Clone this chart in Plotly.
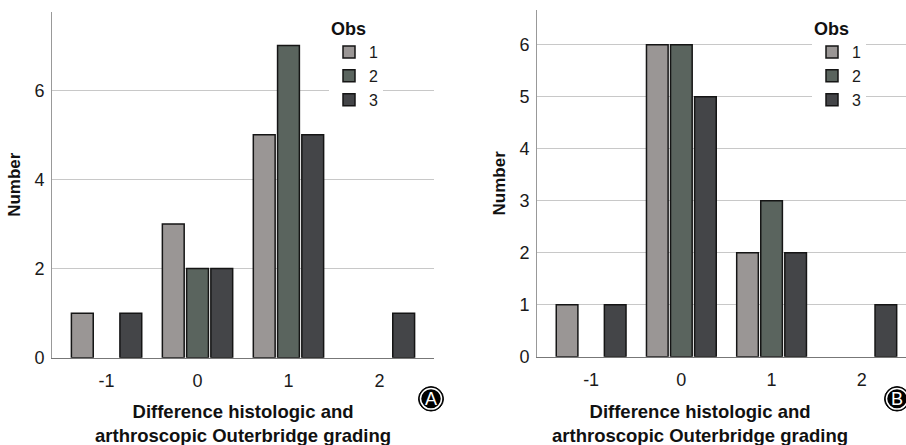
import plotly.graph_objects as go

W, H = 906, 445

categories = [-1, 0, 1, 2]
category_labels = ["-1", "0", "1", "2"]
series_names = ["1", "2", "3"]
colors = ["#9a9695", "#5a645e", "#444548"]

# Panel A values
a_obs1 = [1, 3, 5, 0]
a_obs2 = [0, 2, 7, 0]
a_obs3 = [1, 2, 5, 1]
# Panel B values
b_obs1 = [1, 6, 2, 0]
b_obs2 = [0, 6, 3, 0]
b_obs3 = [1, 5, 2, 1]

a_ticks = [0, 2, 4, 6]
b_ticks = [0, 1, 2, 3, 4, 5, 6]
x_title = "Difference histologic and<br>arthroscopic Outerbridge grading"

FONT = "Liberation Sans, Arial, sans-serif"

def px(xp):
    return xp / W

def py(yp):
    return 1 - yp / H

def nz(vals):
    # empty categories are not drawn as bars
    return [v if v else None for v in vals]

fig = go.Figure()
for name, vals, col in zip(series_names, [a_obs1, a_obs2, a_obs3], colors):
    fig.add_trace(go.Bar(x=categories, y=nz(vals), name=name,
                         marker=dict(color=col, line=dict(color="#151515", width=1.5)),
                         xaxis="x", yaxis="y", legend="legend"))
for name, vals, col in zip(series_names, [b_obs1, b_obs2, b_obs3], colors):
    fig.add_trace(go.Bar(x=categories, y=nz(vals), name=name,
                         marker=dict(color=col, line=dict(color="#151515", width=1.5)),
                         xaxis="x2", yaxis="y2", legend="legend2"))

common_x = dict(tickvals=categories, ticktext=category_labels, ticks="", showgrid=False, zeroline=False,
                showline=True, linecolor="#777777", linewidth=1,
                tickfont=dict(size=18, color="#1a1a1a", family=FONT), ticklabelstandoff=7)
common_y = dict(ticks="", showgrid=True, gridcolor="#c8c8c8", gridwidth=1, zeroline=False, showline=True,
                linecolor="#999999", linewidth=1, tickfont=dict(size=18, color="#1a1a1a", family=FONT),
                ticklabelstandoff=3,
                title=dict(text="<b>Number</b>", font=dict(size=17, color="#111111", family=FONT),
                           standoff=9))

legend_common = dict(bgcolor="white", borderwidth=0, xanchor="left", yanchor="top",
                     font=dict(size=16, color="#1a1a1a", family=FONT),
                     title=dict(text="<b>Obs</b>", font=dict(size=18, color="#111111", family=FONT)),
                     itemclick=False, traceorder="normal")

fig.update_layout(
    width=W, height=H, margin=dict(l=0, r=0, t=0, b=0),
    paper_bgcolor="white", plot_bgcolor="white",
    barmode="group", bargap=0.2, bargroupgap=0.1,
    font=dict(family=FONT),
    xaxis=dict(domain=[px(52), px(434)], range=[-1.6, 2.6], anchor="y", **common_x),
    yaxis=dict(domain=[py(366), py(12)], range=[0, 7.76], tickvals=a_ticks, anchor="x", **common_y),
    xaxis2=dict(domain=[px(537), 1.0], range=[-1.6, 2.49], anchor="y2", **common_x),
    yaxis2=dict(domain=[py(365), py(10)], range=[0, 6.67], tickvals=b_ticks, anchor="x2", **common_y),
    legend=dict(x=px(329), y=py(12), **legend_common),
    legend2=dict(x=px(812), y=py(12), **legend_common),
)

# x-axis titles (two lines, centred under each panel)
for cx in [243, 700]:
    fig.add_annotation(text=f"<b>{x_title}</b>", x=px(cx), y=py(433), xref="paper", yref="paper",
                       xanchor="center", yanchor="middle", showarrow=False,
                       font=dict(size=18.5, color="#111111", family=FONT))

# circled panel letters
for letter, cx, cy in [("A", 431, 408), ("B", 897, 408)]:
    r = 12.5
    fig.add_shape(type="circle", xref="paper", yref="paper", x0=px(cx - r), x1=px(cx + r),
                  y0=py(cy + r), y1=py(cy - r), fillcolor="black", line=dict(color="black", width=1))
    r2 = 10.5
    fig.add_shape(type="circle", xref="paper", yref="paper", x0=px(cx - r2), x1=px(cx + r2),
                  y0=py(cy + r2), y1=py(cy - r2), fillcolor="black", line=dict(color="white", width=1.5))
    fig.add_annotation(text=letter, x=px(cx), y=py(cy), xref="paper", yref="paper",
                       xanchor="center", yanchor="middle", showarrow=False,
                       font=dict(size=18, color="white", family=FONT))

fig.write_html("out.html")
